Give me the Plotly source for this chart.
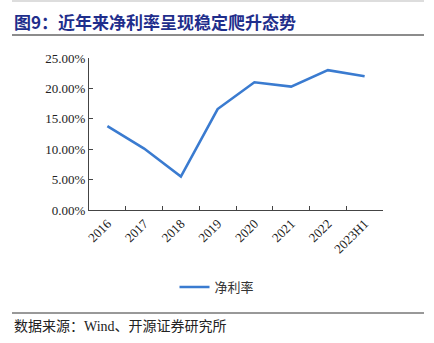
import plotly.graph_objects as go

categories = ["2016", "2017", "2018", "2019", "2020", "2021", "2022", "2023H1"]
net_margin = [13.8, 10.1, 5.5, 16.6, 21.0, 20.3, 23.0, 22.0]
y_ticks = [0, 5, 10, 15, 20, 25]
y_tick_labels = ["0.00%", "5.00%", "10.00%", "15.00%", "20.00%", "25.00%"]
series_name = "净利率"
title_text = "图9：近年来净利率呈现稳定爬升态势"
source_text = "数据来源：Wind、开源证券研究所"

W, H = 434, 343
L, R, T, B = 89, 383, 58, 210

def px(x):
    return (x - L) / (R - L)

def py(y):
    return (B - y) / (B - T)

fig = go.Figure()
fig.add_trace(go.Scatter(
    x=categories, y=net_margin, mode="lines", name=series_name,
    line=dict(color="#3A7BD0", width=2.6),
))

serif = "Liberation Serif, Times New Roman, Noto Sans CJK SC, serif"
fig.update_layout(
    width=W, height=H,
    margin=dict(l=L, r=W - R, t=T, b=H - B),
    paper_bgcolor="white", plot_bgcolor="white",
    showlegend=True,
    legend=dict(orientation="h", x=0.5, xanchor="center", xref="container",
                y=1 - 287 / H, yanchor="middle", yref="container",
                font=dict(family="Noto Sans CJK SC", size=13, color="#333"),
                itemwidth=30),
    xaxis=dict(type="category", range=[-0.5, len(categories) - 0.5],
               showline=True, linecolor="#444", linewidth=1,
               ticks="inside", tickcolor="#444", ticklen=4,
               tickson="boundaries", tickangle=-45,
               tickfont=dict(family=serif, size=13, color="#222"),
               showgrid=False, zeroline=False),
    yaxis=dict(range=[0, 25], tickvals=y_ticks, ticktext=y_tick_labels,
               showline=True, linecolor="#444", linewidth=1,
               ticks="inside", tickcolor="#444", ticklen=4,
               tickfont=dict(family=serif, size=13, color="#222"),
               showgrid=False, zeroline=False),
)

shapes = [
    dict(type="line", xref="paper", yref="paper", x0=px(12), x1=px(424), y0=py(1), y1=py(1),
         line=dict(color="#BBBBBB", width=1)),
    dict(type="line", xref="paper", yref="paper", x0=px(12), x1=px(424), y0=py(35), y1=py(35),
         line=dict(color="#8C8C8C", width=2)),
    dict(type="line", xref="paper", yref="paper", x0=px(12), x1=px(424), y0=py(313), y1=py(313),
         line=dict(color="#333333", width=1)),
]
fig.update_layout(shapes=shapes)

fig.add_annotation(text="<b>" + title_text + "</b>", xref="paper", yref="paper",
                   x=px(12), y=py(22), xanchor="left", yanchor="middle", showarrow=False,
                   font=dict(family="Noto Sans CJK SC", size=17, color="#1F2E8C"))
fig.add_annotation(text=source_text, xref="paper", yref="paper",
                   x=px(12), y=py(326), xanchor="left", yanchor="middle", showarrow=False,
                   font=dict(family="Liberation Serif, Noto Sans CJK SC", size=14, color="#222"))

fig.write_html("out.html")
